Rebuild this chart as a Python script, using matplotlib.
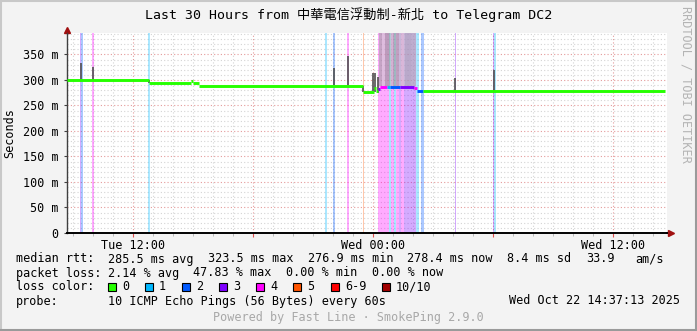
import matplotlib
matplotlib.use('Agg')
import matplotlib.pyplot as plt
from matplotlib.ticker import MultipleLocator, FuncFormatter
from matplotlib.patches import Rectangle
from matplotlib.lines import Line2D

plt.rcParams['font.family'] = ['DejaVu Sans Mono', 'Noto Sans CJK TC']

W, H = 697, 331

# loss classes
loss_labels = ['0', '1', '2', '3', '4', '5', '6-9', '10/10']
loss_colors = ['#26ff00', '#00b8ff', '#0059ff', '#7e00ff', '#ff00ff', '#ff5500', '#ff0000', '#a10000']

# median rtt in ms, time in hours counted from Tue 00:00
med_start = [8.7, 12.8, 14.9, 15.0, 15.3, 23.5, 24.05, 24.15, 24.25, 24.35, 24.7, 24.85, 25.35, 26.05, 26.2, 26.5]
med_end = [12.8, 14.9, 15.0, 15.3, 23.5, 24.05, 24.15, 24.25, 24.35, 24.7, 24.85, 25.35, 26.05, 26.2, 26.5, 38.6]
med_rtt = [300, 294, 297, 294, 289, 277, 284, 278, 283, 286, 287, 287, 287, 285, 278, 278]
med_loss = [0, 0, 0, 0, 0, 0, 0, 0, 3, 4, 1, 2, 3, 4, 2, 0]

# packet loss periods (background bands)
band_start = [9.33, 9.42, 9.93, 12.73, 21.58, 21.98, 22.68, 23.5,
              24.25, 24.8, 24.92, 25.05, 25.17, 25.3, 25.42, 25.53, 26.0, 26.15, 26.4,
              28.08, 29.98, 30.07]
band_end = [9.42, 9.51, 10.06, 12.87, 21.72, 22.12, 22.82, 23.56,
            24.8, 24.92, 25.05, 25.17, 25.3, 25.42, 25.53, 26.0, 26.15, 26.28, 26.55,
            28.16, 30.07, 30.16]
band_loss = [3, 2, 4, 1, 1, 2, 4, 5,
             4, 1, 4, 1, 4, 3, 4, 3, 3, 1, 2,
             3, 3, 1]

# smoke (rtt spread) spikes: time, min, max in ms
spike_t = [9.39, 9.98, 12.8, 22.05, 22.74, 23.5, 24.0, 24.1, 24.25, 28.12, 30.05]
spike_lo = [300, 300, 294, 290, 290, 277, 279, 276, 275, 279, 279]
spike_hi = [334, 326, 300, 324, 347, 289, 314, 314, 305, 303, 320]

# heavy smoke during the lossy period (max rtt beyond the graph top)
smoke_start = [24.3, 24.45, 24.6, 24.85, 25.0, 25.3, 25.6, 25.9]
smoke_end = [24.45, 24.6, 24.85, 25.0, 25.3, 25.6, 25.9, 26.15]
smoke_lo = [288, 288, 288, 288, 288, 288, 288, 288]
smoke_grey = ['#a0a0a0', '#c8c8c8', '#909090', '#b8b8b8', '#989898', '#c0c0c0', '#a8a8a8', '#b0b0b0']

title = 'Last 30 Hours from 中華電信浮動制-新北 to Telegram DC2'

rtt_stats = ['285.5 ms avg', '323.5 ms max', '276.9 ms min', '278.4 ms now', '8.4 ms sd', '33.9', 'am/s']
rtt_x = [108, 208, 307.5, 407.5, 507, 586, 635]
loss_stats = ['2.14 % avg', '47.83 % max', '0.00 % min', '0.00 % now']
loss_x = [108, 193, 286, 372]
square_x = [108, 145, 182, 219, 256, 293, 331, 382]

fig = plt.figure(figsize=(W / 100, H / 100), dpi=100)
fig.patch.set_facecolor('#f3f3f3')

ax = fig.add_axes([67 / W, (H - 233) / H, 600 / W, 200 / H])
ax.set_facecolor('white')
ax.set_xlim(8.7, 38.7)
ax.set_ylim(0, 392)
ax.set_axisbelow(True)

for t0, t1, l in zip(band_start, band_end, band_loss):
    ax.axvspan(t0, t1, color=loss_colors[l], alpha=0.33, lw=0, zorder=1)

for t0, t1, lo, g in zip(smoke_start, smoke_end, smoke_lo, smoke_grey):
    ax.fill_between([t0, t1], [lo, lo], [392, 392], color=g, alpha=0.6, lw=0, zorder=2)

ax.vlines(spike_t, spike_lo, spike_hi, color='#505050', lw=1.2, zorder=3)

for t0, t1, v, l in zip(med_start, med_end, med_rtt, med_loss):
    ax.plot([t0, t1], [v, v], color=loss_colors[l], lw=2.1, solid_capstyle='butt', zorder=4)

# grid
ax.xaxis.set_major_locator(MultipleLocator(6))
ax.xaxis.set_minor_locator(MultipleLocator(1))
ax.yaxis.set_major_locator(MultipleLocator(50))
ax.yaxis.set_minor_locator(MultipleLocator(10))
ax.grid(which='minor', color='#d4d4d4', ls=(0, (1, 2)), lw=0.8)
ax.grid(which='major', color='#e49a9a', ls=(0, (1, 2)), lw=0.8)


def xfmt(t, pos):
    if t % 12 != 0:
        return ''
    day = 'Tue' if t < 24 else 'Wed'
    return '%s %02d:00' % (day, t % 24)


def yfmt(v, pos):
    return '0' if v == 0 else '%d m' % v


ax.xaxis.set_major_formatter(FuncFormatter(xfmt))
ax.yaxis.set_major_formatter(FuncFormatter(yfmt))
ax.tick_params(axis='x', which='major', length=3, color='#e05050', labelsize=8.5, pad=1.5)
ax.tick_params(axis='x', which='minor', length=2, color='#b0b0b0')
ax.tick_params(axis='y', which='major', length=2, color='#404040', labelsize=8.5, pad=4)
ax.tick_params(axis='y', which='minor', length=0)

for s in ['top', 'right']:
    ax.spines[s].set_visible(False)
ax.spines['left'].set_color('#404040')
ax.spines['left'].set_linewidth(1)
ax.spines['bottom'].set_color('black')
ax.spines['bottom'].set_linewidth(1.4)

# axis arrows
ax.plot([1.0, 1.005], [0, 0], color='black', lw=1.4, transform=ax.transAxes, clip_on=False)
ax.plot([1.006], [0], marker='>', ms=4.5, color='#a01010', transform=ax.transAxes, clip_on=False)
ax.plot([0, 0], [1.0, 1.01], color='#404040', lw=1, transform=ax.transAxes, clip_on=False)
ax.plot([0], [1.015], marker='^', ms=4.5, color='#a01010', transform=ax.transAxes, clip_on=False)


def px(x, y):
    return x / W, 1 - y / H


fig.text(*px(349, 15), title, ha='center', va='center', fontsize=9.5)
fig.text(*px(10, 133), 'Seconds', rotation=90, ha='center', va='center', fontsize=8.5)
fig.text(*px(686, 6), 'RRDTOOL / TOBI OETIKER', rotation=-90, ha='center', va='top',
         fontsize=8.5, color='#b4b4b4')

fs = 8.5
fig.text(*px(16, 259), 'median rtt:', va='center', fontsize=fs)
for s, x in zip(rtt_stats, rtt_x):
    fig.text(*px(x, 259), s, va='center', fontsize=fs)
fig.text(*px(16, 273), 'packet loss:', va='center', fontsize=fs)
for s, x in zip(loss_stats, loss_x):
    fig.text(*px(x, 273), s, va='center', fontsize=fs)
fig.text(*px(16, 287), 'loss color:', va='center', fontsize=fs)
for lab, c, x in zip(loss_labels, loss_colors, square_x):
    fig.add_artist(Rectangle(px(x, 291), 8 / W, 8 / H, transform=fig.transFigure,
                             facecolor=c, edgecolor='black', lw=0.8))
    fig.text(*px(x + 14, 287), lab, va='center', fontsize=fs)
fig.text(*px(16, 301), 'probe:', va='center', fontsize=fs)
fig.text(*px(108, 301), '10 ICMP Echo Pings (56 Bytes) every 60s', va='center', fontsize=fs)
fig.text(*px(680, 301), 'Wed Oct 22 14:37:13 2025', va='center', ha='right', fontsize=fs)
fig.text(*px(348, 318), 'Powered by Fast Line · SmokePing 2.9.0', va='center', ha='center',
         fontsize=fs, color='#a8a8a8')

# outer frame
fig.add_artist(Line2D([0, 1], [1 - 0.5 / H, 1 - 0.5 / H], color='#c8c8c8', lw=1.5, transform=fig.transFigure))
fig.add_artist(Line2D([0.5 / W, 0.5 / W], [0, 1], color='#c8c8c8', lw=1.5, transform=fig.transFigure))
fig.add_artist(Line2D([0, 1], [1 / H, 1 / H], color='#9a9a9a', lw=1.5, transform=fig.transFigure))
fig.add_artist(Line2D([1 - 1 / W, 1 - 1 / W], [0, 1], color='#9a9a9a', lw=1.5, transform=fig.transFigure))

fig.savefig('out.png', dpi=100, facecolor=fig.get_facecolor())
